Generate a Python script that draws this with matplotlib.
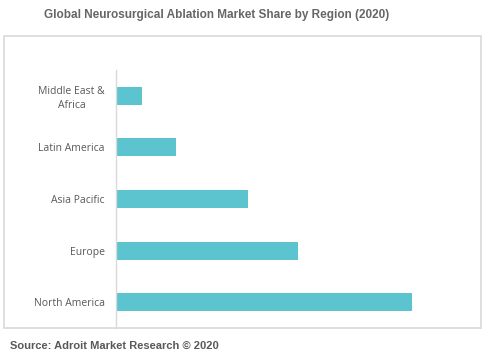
import matplotlib
matplotlib.use("Agg")
import matplotlib.pyplot as plt
from matplotlib.patches import Rectangle

regions = ["North America", "Europe", "Asia Pacific", "Latin America", "Middle East &\nAfrica"]
shares = [42.5, 26.2, 18.9, 8.6, 3.7]

W, H = 488, 356
fig = plt.figure(figsize=(W / 100, H / 100), dpi=100)

# outer frame
fig.patches.append(Rectangle((4 / W, 1 - 328 / H), (481 - 4) / W, (328 - 36) / H,
                             transform=fig.transFigure, fill=False,
                             edgecolor="#d9d9d9", linewidth=1.2))

ax = fig.add_axes([116 / W, 1 - 328 / H, (470 - 116) / W, (328 - 70) / H])
ax.barh(range(len(regions)), shares, height=0.35, color="#5bc4cf")
ax.set_ylim(-0.5, len(regions) - 0.5)
ax.set_xlim(0, 42.5 * (470 - 116) / (412 - 116))
ax.set_yticks(range(len(regions)))
ax.set_yticklabels(regions, fontsize=7.5, color="#595959", family="Open Sans",
                   linespacing=1.3)
ax.tick_params(axis="y", length=0, pad=8)
ax.set_xticks([])
for s in ["top", "right", "bottom"]:
    ax.spines[s].set_visible(False)
ax.spines["left"].set_color("#d9d9d9")
ax.spines["left"].set_linewidth(1)
for lbl in ax.get_yticklabels():
    lbl.set_horizontalalignment("right")
    lbl.set_multialignment("center")

fig.text(217 / W, 1 - 15 / H, "Global Neurosurgical Ablation Market Share by Region (2020)",
         ha="center", va="center", fontsize=8.5, fontweight="bold",
         color="#666666", family="Liberation Sans")
fig.text(10 / W, 1 - 346 / H, "Source: Adroit Market Research © 2020",
         ha="left", va="center", fontsize=8, fontweight="bold",
         color="#595959", family="Liberation Sans")

fig.savefig("out.png", dpi=100)
